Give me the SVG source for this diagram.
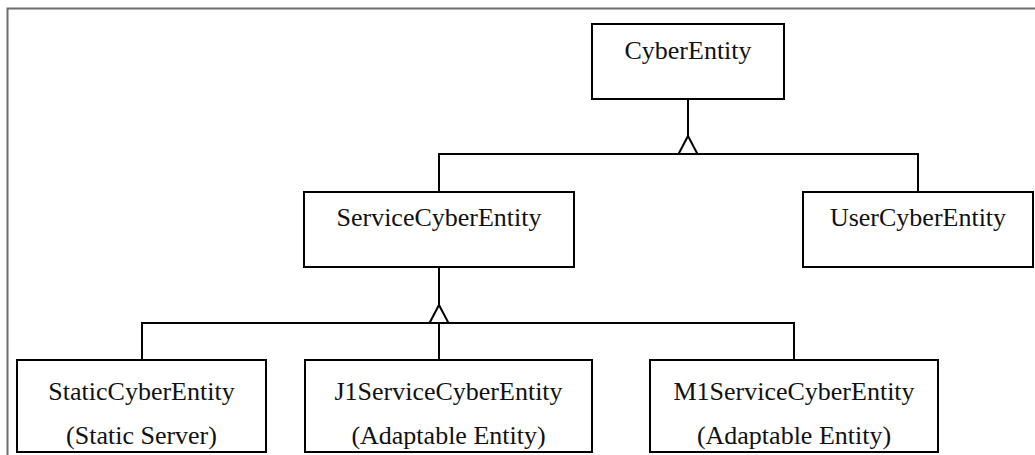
<svg xmlns="http://www.w3.org/2000/svg" width="1035" height="455" viewBox="0 0 1035 455">
  <style>
    .box { fill: #ffffff; stroke: #000000; stroke-width: 2; }
    .label { font-family: "Liberation Serif", "Times New Roman", Times, serif; font-size: 26px; fill: #111111; text-anchor: middle; }
    .wire { fill: none; stroke: #000000; stroke-width: 2; }
    .head { fill: #ffffff; stroke: #000000; stroke-width: 2; stroke-linejoin: miter; }
    .frame { fill: none; stroke: #6e6e6e; stroke-width: 2; }
  </style>

  <rect width="1035" height="455" fill="#ffffff"/>

  <!-- outer frame: top and left edges -->
  <path class="frame" d="M7.5,455 V8.5 H1035"/>

  <!-- generalization connectors -->
  <g id="connectors">
    <!-- CyberEntity hierarchy -->
    <path class="wire" d="M688,99 V137"/>
    <path class="wire" d="M439,192 V154 H918 V192"/>
    <polygon class="head" points="688,136 697.5,154 678.5,154"/>
    <!-- ServiceCyberEntity hierarchy -->
    <path class="wire" d="M439,267 V306"/>
    <path class="wire" d="M142,360 V323 H794 V360"/>
    <path class="wire" d="M439,323 V360"/>
    <polygon class="head" points="439,305 448.5,323 429.5,323"/>
  </g>

  <g id="cyber-entity">
    <rect class="box" x="592" y="24" width="192" height="75"/>
    <text class="label" font-family="Liberation Serif, serif" x="688" y="59">CyberEntity</text>
  </g>

  <g id="service-cyber-entity">
    <rect class="box" x="304" y="192" width="270" height="75"/>
    <text class="label" font-family="Liberation Serif, serif" x="439" y="226">ServiceCyberEntity</text>
  </g>

  <g id="user-cyber-entity">
    <rect class="box" x="803" y="192" width="230" height="75"/>
    <text class="label" font-family="Liberation Serif, serif" x="918" y="226">UserCyberEntity</text>
  </g>

  <g id="static-cyber-entity">
    <rect class="box" x="17" y="360" width="249" height="92"/>
    <text class="label" font-family="Liberation Serif, serif" x="141.5" y="400">StaticCyberEntity</text>
    <text class="label" font-family="Liberation Serif, serif" x="141.5" y="444">(Static Server)</text>
  </g>

  <g id="j1-service-cyber-entity">
    <rect class="box" x="305" y="360" width="287" height="92"/>
    <text class="label" font-family="Liberation Serif, serif" x="448.5" y="400">J1ServiceCyberEntity</text>
    <text class="label" font-family="Liberation Serif, serif" x="448.5" y="444">(Adaptable Entity)</text>
  </g>

  <g id="m1-service-cyber-entity">
    <rect class="box" x="650" y="360" width="288" height="92"/>
    <text class="label" font-family="Liberation Serif, serif" x="794" y="400">M1ServiceCyberEntity</text>
    <text class="label" font-family="Liberation Serif, serif" x="794" y="444">(Adaptable Entity)</text>
  </g>
</svg>
